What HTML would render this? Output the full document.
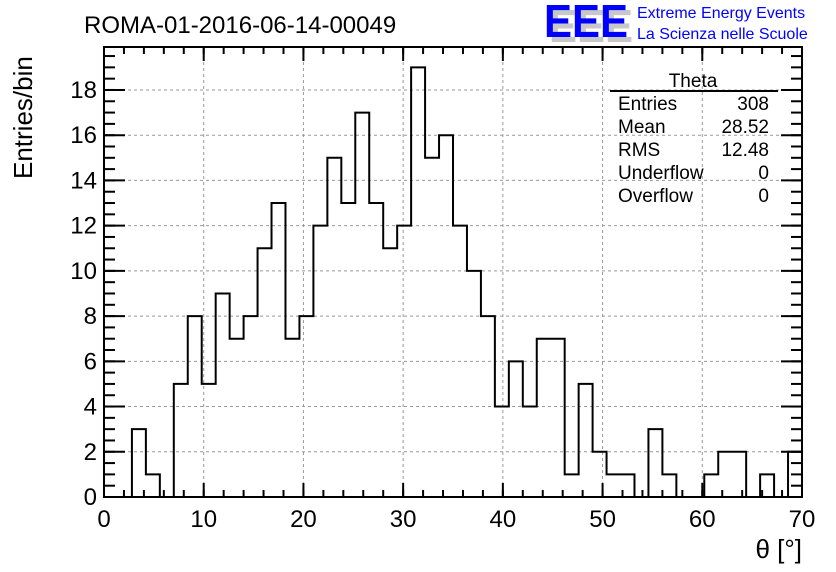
<!DOCTYPE html>
<html><head><meta charset="utf-8"><style>
body{margin:0;background:#fff;}
svg{display:block;font-family:"Liberation Sans",Arial,sans-serif;}
</style></head><body>
<svg id="c" width="836" height="572">
<text x="84" y="33" font-size="24">ROMA-01-2016-06-14-00049</text>
<g>
<text x="549" y="42" font-size="46" fill="#c8c8c8" font-weight="bold" textLength="84" lengthAdjust="spacingAndGlyphs">EEE</text>
<text x="544" y="37" font-size="46" fill="#0000ff" font-weight="bold" textLength="84" lengthAdjust="spacingAndGlyphs">EEE</text>
<text x="637" y="18" font-size="16" fill="#0000ff">Extreme Energy Events</text>
<text x="637" y="39" font-size="16" fill="#0000ff">La Scienza nelle Scuole</text>
</g>
<g id="grid"></g>
<g id="axes"></g>
<path id="hist" fill="none" stroke="#000" stroke-width="2"></path>
<rect x="104" y="47" width="698" height="450" fill="none" stroke="#000" stroke-width="2"/>
<g font-size="19">
<text x="693" y="87" text-anchor="middle">Theta</text>
<line x1="610" y1="91" x2="778" y2="91" stroke="#000" stroke-width="2"/>
<text x="618" y="110">Entries</text><text x="769" y="110" text-anchor="end">308</text>
<text x="618" y="133">Mean</text><text x="769" y="133" text-anchor="end">28.52</text>
<text x="618" y="156">RMS</text><text x="769" y="156" text-anchor="end">12.48</text>
<text x="618" y="179">Underflow</text><text x="769" y="179" text-anchor="end">0</text>
<text x="618" y="202">Overflow</text><text x="769" y="202" text-anchor="end">0</text>
</g>
<text x="802" y="558" font-size="26" text-anchor="end">θ [°]</text>
<text transform="translate(32,179) rotate(-90)" font-size="26" text-anchor="start">Entries/bin</text>
</svg>
<script>
const counts=[0,0,3,1,0,5,8,5,9,7,8,11,13,7,8,12,15,13,17,13,11,12,19,15,16,12,10,8,4,6,4,7,7,1,5,2,1,1,0,3,1,0,0,1,2,2,0,1,0,2];
const binWidth=1.4;
const xTicks=[0,10,20,30,40,50,60,70];
const yTicks=[0,2,4,6,8,10,12,14,16,18];
const X0=104,X1=802,Y0=497,Y1=47,xMax=70,yMax=19.9;
const sx=v=>X0+(X1-X0)*v/xMax;
const sy=v=>Y0-(Y0-Y1)*v/yMax;
const NS="http://www.w3.org/2000/svg";
const grid=document.getElementById('grid'),axes=document.getElementById('axes');
function mk(tag,attrs,parent){const e=document.createElementNS(NS,tag);for(const k in attrs)e.setAttribute(k,attrs[k]);parent.appendChild(e);return e;}
xTicks.forEach(t=>{
  const x=sx(t);
  if(t>0&&t<xMax){const g=mk('line',{x1:x,x2:x,y1:Y0,y2:Y1,stroke:'#999','stroke-dasharray':'3,3'},grid);
  
  }
  const l=mk('text',{x:x,y:Y0+30,'font-size':24,'text-anchor':'middle'},axes);l.textContent=t;
  
  
  mk('line',{x1:x,x2:x,y1:Y0,y2:Y0-14,stroke:'#000','stroke-width':2},axes);
  mk('line',{x1:x,x2:x,y1:Y1,y2:Y1+14,stroke:'#000','stroke-width':2},axes);
});
for(let v=0;v<=xMax;v+=2){const x=sx(v);
  mk('line',{x1:x,x2:x,y1:Y0,y2:Y0-7,stroke:'#000','stroke-width':2},axes);
  mk('line',{x1:x,x2:x,y1:Y1,y2:Y1+7,stroke:'#000','stroke-width':2},axes);}
yTicks.forEach(t=>{
  const y=sy(t);
  if(t>0){const g=mk('line',{x1:X0,x2:X1,y1:y,y2:y,stroke:'#999','stroke-dasharray':'3,3'},grid);
  
  }
  const l=mk('text',{x:X0-7,y:y+8,'font-size':24,'text-anchor':'end'},axes);l.textContent=t;
  
  
  mk('line',{x1:X0,x2:X0+21,y1:y,y2:y,stroke:'#000','stroke-width':2},axes);
  mk('line',{x1:X1,x2:X1-21,y1:y,y2:y,stroke:'#000','stroke-width':2},axes);
});
for(let v=0;v<yMax;v+=0.5){const y=sy(v);
  mk('line',{x1:X0,x2:X0+11,y1:y,y2:y,stroke:'#000','stroke-width':2},axes);
  mk('line',{x1:X1,x2:X1-11,y1:y,y2:y,stroke:'#000','stroke-width':2},axes);}
let d='M'+sx(0)+','+sy(0);
counts.forEach((c,i)=>{d+=' L'+sx(i*binWidth)+','+sy(c)+' L'+sx((i+1)*binWidth)+','+sy(c);});
d+=' L'+sx(counts.length*binWidth)+','+sy(0);
document.getElementById('hist').setAttribute('d',d);
</script>
</body></html>
